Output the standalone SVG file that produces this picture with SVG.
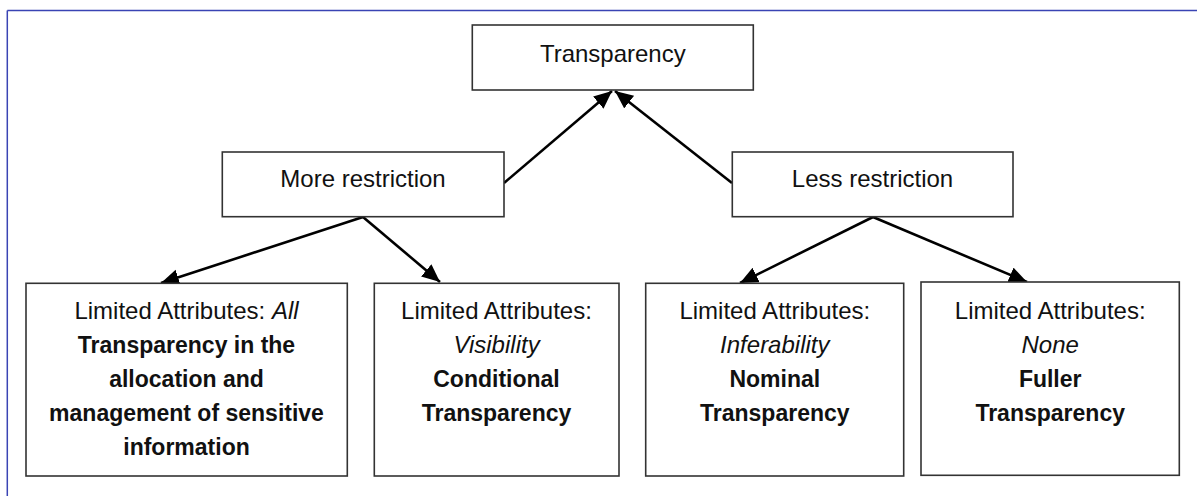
<svg xmlns="http://www.w3.org/2000/svg" width="1197" height="496" viewBox="0 0 1197 496">
<defs>
<style>
.box{fill:#fff;stroke:#333;stroke-width:1.6}
.t{font-family:"Liberation Sans",Arial,sans-serif;font-size:24px;fill:#111;text-anchor:middle}
.b{font-weight:bold;font-size:23px}
.i{font-style:italic}
.edge{stroke:#000;stroke-width:2.6;fill:none;marker-end:url(#ah)}
</style>
<marker id="ah" markerUnits="userSpaceOnUse" markerWidth="20" markerHeight="18" refX="18" refY="8" orient="auto">
<path d="M0,0 L18,8 L0,16 Z" fill="#000"/>
</marker>
</defs>
<rect width="1197" height="496" fill="#fff"/>
<g id="frame" stroke="#3a44b4" stroke-width="1.5" fill="none">
<line x1="7.3" y1="10.5" x2="1197" y2="10.5"/>
<line x1="7.3" y1="10.5" x2="7.3" y2="496"/>
</g>
<g id="connectors">
<line class="edge" x1="504" y1="183" x2="612" y2="91"/>
<line class="edge" x1="732" y1="183" x2="615" y2="91"/>
<line class="edge" x1="363" y1="217" x2="161" y2="283"/>
<line class="edge" x1="363" y1="217" x2="440" y2="282"/>
<line class="edge" x1="873" y1="217" x2="740" y2="283"/>
<line class="edge" x1="873" y1="217" x2="1027" y2="282"/>
</g>
<g id="n-transparency">
<rect class="box" x="472.3" y="25" width="281" height="65"/>
<text class="t" x="612.8" y="62">Transparency</text>
</g>
<g id="n-more">
<rect class="box" x="222.3" y="152" width="281.7" height="64.7"/>
<text class="t" x="363" y="187">More restriction</text>
</g>
<g id="n-less">
<rect class="box" x="732.3" y="152" width="280.7" height="64.7"/>
<text class="t" x="872.5" y="187">Less restriction</text>
</g>
<g id="n-all">
<rect class="box" x="26" y="283.3" width="321.3" height="192.7"/>
<text class="t" x="186.5" y="319">Limited Attributes: <tspan class="i">All</tspan></text>
<text class="t b" x="186.5" y="353">Transparency in the</text>
<text class="t b" x="186.5" y="387">allocation and</text>
<text class="t b" x="186.5" y="421">management of sensitive</text>
<text class="t b" x="186.5" y="455">information</text>
</g>
<g id="n-visibility">
<rect class="box" x="374.3" y="283.3" width="244.7" height="192.7"/>
<text class="t" x="496.5" y="319">Limited Attributes:</text>
<text class="t i" x="496.5" y="353">Visibility</text>
<text class="t b" x="496.5" y="387">Conditional</text>
<text class="t b" x="496.5" y="421">Transparency</text>
</g>
<g id="n-inferability">
<rect class="box" x="645.7" y="283.3" width="258" height="192.7"/>
<text class="t" x="774.8" y="319">Limited Attributes:</text>
<text class="t i" x="774.8" y="353">Inferability</text>
<text class="t b" x="774.8" y="387">Nominal</text>
<text class="t b" x="774.8" y="421">Transparency</text>
</g>
<g id="n-none">
<rect class="box" x="921" y="282" width="258.3" height="193.3"/>
<text class="t" x="1050.2" y="319">Limited Attributes:</text>
<text class="t i" x="1050.2" y="353">None</text>
<text class="t b" x="1050.2" y="387">Fuller</text>
<text class="t b" x="1050.2" y="421">Transparency</text>
</g>
</svg>
